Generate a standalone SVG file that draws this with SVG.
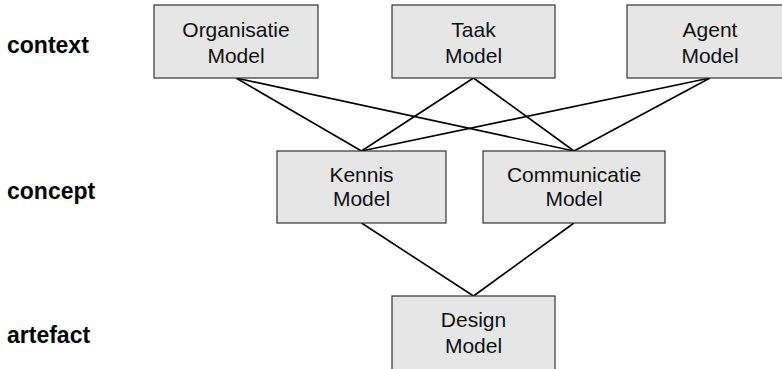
<svg xmlns="http://www.w3.org/2000/svg" width="782" height="369" viewBox="0 0 782 369">
<style>
.box{fill:#e6e6e6;stroke:#333;stroke-width:1.2}
.t{font-family:"Liberation Sans",Arial,sans-serif;font-size:21px;fill:#111;text-anchor:middle}
.lvl{font-family:"Liberation Sans",Arial,sans-serif;font-size:23px;font-weight:bold;fill:#000}
.con line{stroke:#000;stroke-width:1.6}
</style>
<rect width="782" height="369" fill="#fff"/>
<g id="levels">
<text class="lvl" x="7" y="53">context</text>
<text class="lvl" x="7" y="199">concept</text>
<text class="lvl" x="7" y="343">artefact</text>
</g>
<g class="con" id="connectors">
<line x1="236" y1="78" x2="361.5" y2="151"/>
<line x1="236" y1="78" x2="574" y2="151"/>
<line x1="473.5" y1="78" x2="361.5" y2="151"/>
<line x1="473.5" y1="78" x2="574" y2="151"/>
<line x1="710" y1="78" x2="361.5" y2="151"/>
<line x1="710" y1="78" x2="574" y2="151"/>
<line x1="361.5" y1="223" x2="473.5" y2="296"/>
<line x1="574" y1="223" x2="473.5" y2="296"/>
</g>
<g id="organisatie">
<rect class="box" x="154" y="5" width="164" height="73"/>
<text class="t" x="236" y="37">Organisatie</text>
<text class="t" x="236" y="63">Model</text>
</g>
<g id="taak">
<rect class="box" x="392" y="5" width="163" height="73"/>
<text class="t" x="473.5" y="37">Taak</text>
<text class="t" x="473.5" y="63">Model</text>
</g>
<g id="agent">
<rect class="box" x="627" y="5" width="166" height="73"/>
<text class="t" x="710" y="37">Agent</text>
<text class="t" x="710" y="63">Model</text>
</g>
<g id="kennis">
<rect class="box" x="277" y="151" width="169" height="72"/>
<text class="t" x="361.5" y="182">Kennis</text>
<text class="t" x="361.5" y="206">Model</text>
</g>
<g id="communicatie">
<rect class="box" x="483" y="151" width="182" height="72"/>
<text class="t" x="574" y="182">Communicatie</text>
<text class="t" x="574" y="206">Model</text>
</g>
<g id="design">
<rect class="box" x="392" y="296" width="163" height="90"/>
<text class="t" x="473.5" y="327">Design</text>
<text class="t" x="473.5" y="353">Model</text>
</g>
</svg>
